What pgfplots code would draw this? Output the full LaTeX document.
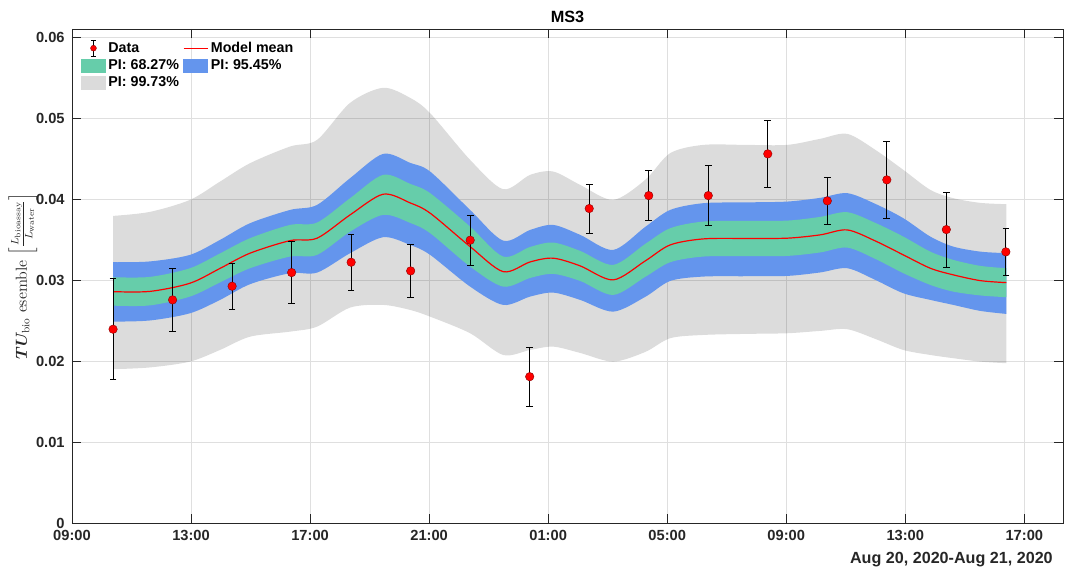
\documentclass[border=0pt]{standalone}
\usepackage{amsmath}
\usepackage{bm}
\usepackage{fontspec}
\usepackage{pgfplots}
\usepackage{pgfplotstable}
\pgfplotsset{compat=1.18}
\usepgfplotslibrary{fillbetween}
\newfontfamily\hv{Liberation Sans}
\definecolor{pigreen}{RGB}{102,205,170}
\definecolor{piblue}{RGB}{100,149,237}
\definecolor{gridgray}{RGB}{223,223,223}
\definecolor{txt}{RGB}{38,38,38}

\pgfplotstableread{
x m gT gB bT bB yT yB
1.378 0.02857 0.03035 0.02684 0.03220 0.02487 0.03792 0.01899
2.622 0.02860 0.03039 0.02687 0.03230 0.02501 0.03842 0.01921
3.966 0.02961 0.03146 0.02796 0.03311 0.02590 0.03990 0.01993
4.975 0.03144 0.03329 0.02971 0.03496 0.02755 0.04216 0.02137
5.983 0.03332 0.03517 0.03146 0.03702 0.02949 0.04443 0.02301
7.328 0.03487 0.03681 0.03290 0.03866 0.03085 0.04649 0.02363
8.235 0.03517 0.03710 0.03311 0.03928 0.03092 0.04731 0.02425
9.345 0.03805 0.04011 0.03598 0.04258 0.03332 0.05188 0.02660
10.454 0.04060 0.04299 0.03805 0.04558 0.03529 0.05374 0.02693
11.361 0.03953 0.04188 0.03706 0.04447 0.03434 0.05250 0.02631
12.034 0.03826 0.04073 0.03579 0.04340 0.03311 0.05061 0.02548
13.378 0.03413 0.03660 0.03166 0.03866 0.02919 0.04484 0.02343
14.487 0.03104 0.03290 0.02919 0.03487 0.02693 0.04122 0.02075
15.395 0.03224 0.03409 0.03026 0.03619 0.02796 0.04299 0.02137
16.168 0.03270 0.03463 0.03076 0.03681 0.02845 0.04340 0.02178
17.076 0.03175 0.03360 0.02989 0.03558 0.02755 0.04175 0.02100
18.185 0.03002 0.03187 0.02816 0.03372 0.02610 0.03990 0.01993
19.261 0.03236 0.03446 0.03039 0.03656 0.02792 0.04237 0.02112
20.101 0.03434 0.03640 0.03220 0.03866 0.02989 0.04567 0.02282
21.210 0.03508 0.03722 0.03290 0.03949 0.03043 0.04669 0.02322
22.622 0.03514 0.03731 0.03295 0.03959 0.03047 0.04669 0.02335
24.034 0.03517 0.03734 0.03298 0.03969 0.03051 0.04669 0.02343
25.143 0.03558 0.03780 0.03341 0.04015 0.03094 0.04744 0.02372
26.050 0.03619 0.03838 0.03401 0.04073 0.03146 0.04805 0.02393
26.992 0.03483 0.03706 0.03261 0.03941 0.03002 0.04608 0.02273
27.933 0.03311 0.03537 0.03085 0.03764 0.02837 0.04361 0.02137
28.840 0.03146 0.03351 0.02940 0.03537 0.02755 0.04114 0.02075
29.613 0.03064 0.03249 0.02857 0.03413 0.02693 0.04011 0.02035
30.521 0.02993 0.03175 0.02810 0.03351 0.02619 0.03953 0.01993
31.395 0.02968 0.03146 0.02788 0.03332 0.02582 0.03937 0.01973
}\bands

\pgfplotstableread{
x y e
1.38 0.02393 0.00622
3.38 0.02755 0.00387
5.38 0.02924 0.00287
7.38 0.03092 0.00383
9.38 0.03220 0.00348
11.38 0.03113 0.00330
13.38 0.03492 0.00305
15.38 0.01807 0.00367
17.38 0.03883 0.00301
19.38 0.04043 0.00305
21.38 0.04043 0.00369
23.38 0.04558 0.00414
25.38 0.03978 0.00286
27.38 0.04237 0.00476
29.38 0.03623 0.00465
31.38 0.03348 0.00288
}\obs

\begin{document}
\begin{tikzpicture}
\begin{axis}[
  name=ax, at={(0,0)}, anchor=south west,
  scale only axis, width=743.25pt, height=370.5pt,
  xmin=0, xmax=33.3, ymin=0, ymax=0.061,
  xtick={0,4,8,12,16,20,24,28,32},
  xticklabels={09:00,13:00,17:00,21:00,01:00,05:00,09:00,13:00,17:00},
  ytick={0,0.01,0.02,0.03,0.04,0.05,0.06},
  yticklabels={0,0.01,0.02,0.03,0.04,0.05,0.06},
  scaled y ticks=false, scaled x ticks=false,
  tick align=inside, major tick length=7pt,
  tick style={txt, line width=0.6pt},
  grid=major, grid style={gridgray, line width=0.5pt},
  axis line style={txt, line width=0.6pt},
  ticklabel style={font=\hv\bfseries\fontsize{11}{13}\selectfont, text=txt},
  xticklabel style={yshift=-2pt},
  yticklabel style={xshift=-2pt},
  title={MS3},
  title style={font=\hv\bfseries\fontsize{12.2}{14}\selectfont, text=black, at={(axis description cs:0.5,1)}, anchor=south, yshift=-5pt},
  ylabel={$\bm{TU}_{\mathrm{bio}}$ esemble $\left[\frac{L_{\mathrm{bioassay}}}{L_{\mathrm{water}}}\right]$},
  ylabel style={font=\fontsize{12}{14}\selectfont, inner sep=0pt, at={(axis description cs:-0.0495,0.5)}, anchor=center, text=txt},
  legend columns=2,
  legend cell align=left,
  legend style={at={(axis description cs:0.005,0.985)}, anchor=north west, draw=none, fill=none,
    font=\hv\bfseries\fontsize{10.7}{13}\selectfont, text=black,
    /tikz/every even column/.append style={column sep=1pt}},
]
\addplot[draw=none, name path=yT, smooth, forget plot] table[x=x,y=yT]{\bands};
\addplot[draw=none, name path=yB, smooth, forget plot] table[x=x,y=yB]{\bands};
\addplot[draw=none, name path=bT, smooth, forget plot] table[x=x,y=bT]{\bands};
\addplot[draw=none, name path=bB, smooth, forget plot] table[x=x,y=bB]{\bands};
\addplot[draw=none, name path=gT, smooth, forget plot] table[x=x,y=gT]{\bands};
\addplot[draw=none, name path=gB, smooth, forget plot] table[x=x,y=gB]{\bands};
\addplot[fill=black, fill opacity=0.137, draw=none, forget plot] fill between[of=yT and yB];
\addplot[fill=piblue, draw=none, forget plot] fill between[of=bT and bB];
\addplot[fill=pigreen, draw=none, forget plot] fill between[of=gT and gB];
\addplot[red, line width=0.9pt, smooth, forget plot] table[x=x,y=m]{\bands};
\addplot[forget plot, only marks, mark=*, mark size=3.2pt,
  mark options={fill=red, draw=red!55!black, line width=0.3pt},
  error bars/.cd, y dir=both, y explicit,
  error bar style={black, line width=0.6pt},
  error mark options={rotate=90, mark size=2.5pt, black, line width=0.6pt}]
  table[x=x, y=y, y error=e]{\obs};

\addlegendimage{legend image code/.code={
  \draw[black, line width=0.6pt] (9pt,-6pt) -- (9pt,6pt) (7pt,-6pt) -- (11pt,-6pt) (7pt,6pt) -- (11pt,6pt);
  \draw[fill=red, draw=red!55!black, line width=0.3pt] (9pt,0pt) circle (2.2pt);}}
\addlegendentry{Data}
\addlegendimage{legend image code/.code={\draw[red, line width=0.9pt] (0pt,0pt) -- (18pt,0pt);}}
\addlegendentry{Model mean}
\addlegendimage{legend image code/.code={\fill[pigreen] (0pt,-5pt) rectangle (18pt,5pt);}}
\addlegendentry{PI: 68.27\%}
\addlegendimage{legend image code/.code={\fill[piblue] (0pt,-5pt) rectangle (18pt,5pt);}}
\addlegendentry{PI: 95.45\%}
\addlegendimage{legend image code/.code={\fill[black!14] (0pt,-5pt) rectangle (18pt,5pt);}}
\addlegendentry{PI: 99.73\%}
\end{axis}
\node[anchor=east, inner sep=0pt, font=\hv\bfseries\fontsize{12.1}{14}\selectfont, text=txt]
  at ([xshift=-7.5pt, yshift=-27.75pt]ax.south east) {Aug 20, 2020-Aug 21, 2020};
\pgfresetboundingbox
\useasboundingbox (-54pt,-36.75pt) rectangle (744.75pt,392.25pt);
\end{tikzpicture}
\end{document}
